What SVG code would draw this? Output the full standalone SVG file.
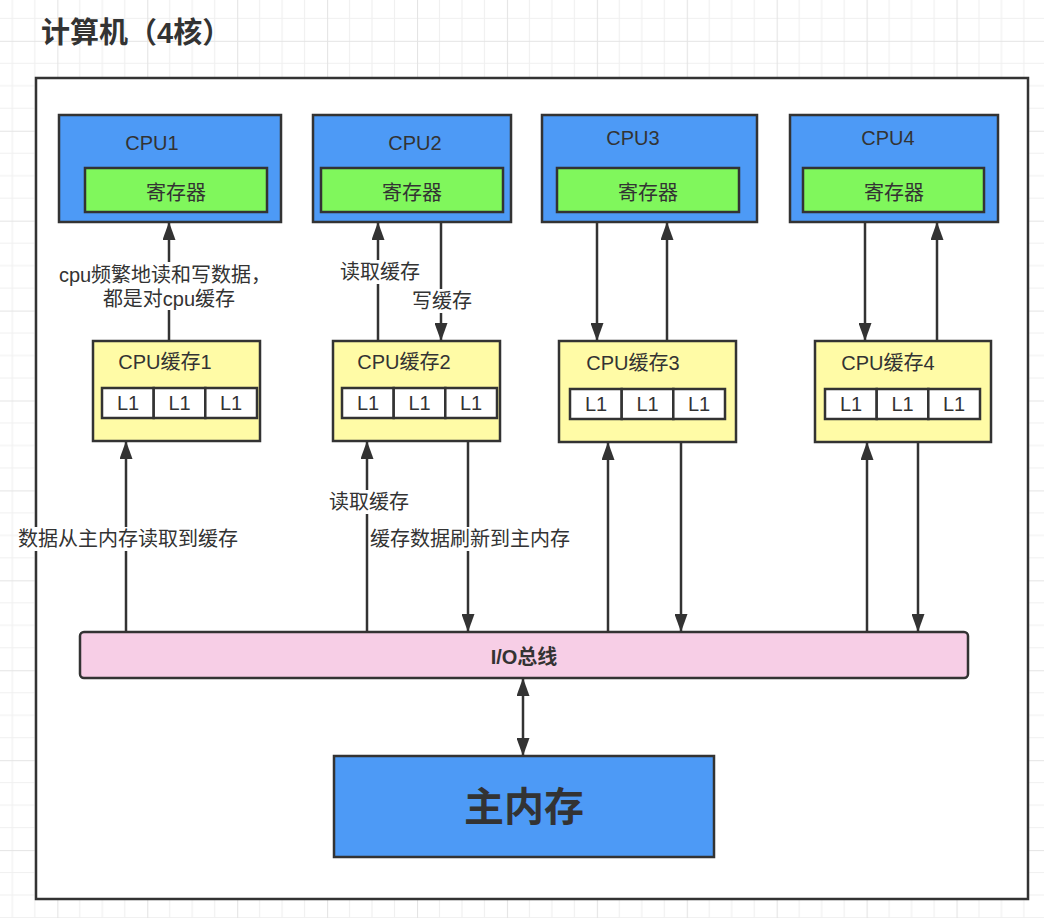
<svg xmlns="http://www.w3.org/2000/svg" width="1044" height="918" viewBox="0 0 1044 918">
<defs>
<pattern id="grid" patternUnits="userSpaceOnUse" x="-32.6" y="-49.1" width="89.92" height="89.92">
<path d="M22.48 0V89.92M44.96 0V89.92M67.44 0V89.92M0 22.48H89.92M0 44.96H89.92M0 67.44H89.92" stroke="#f0f0f0" stroke-width="1.2" fill="none"/>
<path d="M0.5 0V89.92M0 0.5H89.92" stroke="#e4e4e4" stroke-width="1.2" fill="none"/>
</pattern>
<marker id="arr" markerUnits="userSpaceOnUse" markerWidth="18" markerHeight="13" refX="18" refY="6.5" orient="auto">
<path d="M0,0 L18,6.5 L0,13 Z" fill="#333"/>
</marker>
<marker id="arrs" markerUnits="userSpaceOnUse" markerWidth="18" markerHeight="13" refX="18" refY="6.5" orient="auto-start-reverse">
<path d="M0,0 L18,6.5 L0,13 Z" fill="#333"/>
</marker>
</defs>
<style>
text{font-family:"Liberation Sans","Noto Sans CJK SC",sans-serif;fill:#333;font-size:20px;text-anchor:middle}
.cpu{fill:#4D9AF6;stroke:#333;stroke-width:2.5}
.reg{fill:#80F75C;stroke:#333;stroke-width:2.5}
.cache{fill:#FFFBA6;stroke:#333;stroke-width:2.5}
.l1{fill:#fff;stroke:#333;stroke-width:2.5}
.bus{fill:#F7CEE6;stroke:#333;stroke-width:2.5}
.ln{stroke:#333;stroke-width:2.5;fill:none}
.lbl{fill:#fff}
</style>
<rect x="0" y="0" width="1044" height="918" fill="#fff"/>
<rect x="0" y="0" width="1044" height="918" fill="url(#grid)"/>
<text x="41" y="43" style="text-anchor:start;font-size:29px;font-weight:bold">计算机（4核）</text>
<g id="computer"><rect x="36" y="78" width="992" height="821" fill="#fff" stroke="#333" stroke-width="2.5"/></g>

<g id="cpu1">
<rect class="cpu" x="59" y="115" width="222" height="107"/>
<text x="152" y="150">CPU1</text>
<rect class="reg" x="85" y="168" width="182" height="44"/>
<text x="176" y="200">寄存器</text>
</g>
<g id="cpu2">
<rect class="cpu" x="313" y="115" width="198" height="107"/>
<text x="415" y="150">CPU2</text>
<rect class="reg" x="321" y="168" width="182" height="44"/>
<text x="412" y="200">寄存器</text>
</g>
<g id="cpu3">
<rect class="cpu" x="542" y="115" width="215" height="107"/>
<text x="633" y="145">CPU3</text>
<rect class="reg" x="557" y="168" width="182" height="44"/>
<text x="648" y="200">寄存器</text>
</g>
<g id="cpu4">
<rect class="cpu" x="790" y="115" width="208" height="107"/>
<text x="888" y="145">CPU4</text>
<rect class="reg" x="803" y="168" width="181" height="44"/>
<text x="894" y="200">寄存器</text>
</g>

<g id="cache1">
<rect class="cache" x="93" y="341" width="167" height="100"/>
<text x="165" y="369">CPU缓存1</text>
<rect class="l1" x="102" y="388" width="51.7" height="30"/>
<rect class="l1" x="153.7" y="388" width="51.7" height="30"/>
<rect class="l1" x="205.3" y="388" width="51.7" height="30"/>
<text x="128" y="410">L1</text><text x="179.5" y="410">L1</text><text x="231" y="410">L1</text>
</g>
<g id="cache2">
<rect class="cache" x="333" y="341" width="167" height="100"/>
<text x="404" y="369">CPU缓存2</text>
<rect class="l1" x="342" y="388" width="51.7" height="30"/>
<rect class="l1" x="393.7" y="388" width="51.7" height="30"/>
<rect class="l1" x="445.3" y="388" width="51.7" height="30"/>
<text x="368" y="410">L1</text><text x="419.5" y="410">L1</text><text x="471" y="410">L1</text>
</g>
<g id="cache3">
<rect class="cache" x="559" y="341" width="177" height="101"/>
<text x="633" y="370">CPU缓存3</text>
<rect class="l1" x="570" y="389" width="51.7" height="30"/>
<rect class="l1" x="621.7" y="389" width="51.7" height="30"/>
<rect class="l1" x="673.3" y="389" width="51.7" height="30"/>
<text x="596" y="411">L1</text><text x="647.5" y="411">L1</text><text x="699" y="411">L1</text>
</g>
<g id="cache4">
<rect class="cache" x="815" y="341" width="176" height="101"/>
<text x="888" y="370">CPU缓存4</text>
<rect class="l1" x="825" y="389" width="51.7" height="30"/>
<rect class="l1" x="876.7" y="389" width="51.7" height="30"/>
<rect class="l1" x="928.3" y="389" width="51.7" height="30"/>
<text x="851" y="411">L1</text><text x="902.5" y="411">L1</text><text x="954" y="411">L1</text>
</g>

<g id="bus">
<rect class="bus" x="80" y="632" width="888" height="46" rx="4"/>
<text x="524" y="664" style="font-weight:bold">I/O总线</text>
</g>
<g id="memory">
<rect class="cpu" x="334" y="756" width="380" height="101"/>
<text x="524" y="821" style="font-size:40px;font-weight:bold">主内存</text>
</g>

<g id="connectors">
<path class="ln" d="M169 341V222" marker-end="url(#arr)"/>
<path class="ln" d="M378 341V222" marker-end="url(#arr)"/>
<path class="ln" d="M441 222V341" marker-end="url(#arr)"/>
<path class="ln" d="M597 222V341" marker-end="url(#arr)"/>
<path class="ln" d="M667 341V222" marker-end="url(#arr)"/>
<path class="ln" d="M865 222V341" marker-end="url(#arr)"/>
<path class="ln" d="M937 341V222" marker-end="url(#arr)"/>
<path class="ln" d="M126 632V441" marker-end="url(#arr)"/>
<path class="ln" d="M367 632V441" marker-end="url(#arr)"/>
<path class="ln" d="M468 441V632" marker-end="url(#arr)"/>
<path class="ln" d="M608 632V442" marker-end="url(#arr)"/>
<path class="ln" d="M681 442V632" marker-end="url(#arr)"/>
<path class="ln" d="M867 632V442" marker-end="url(#arr)"/>
<path class="ln" d="M918 442V632" marker-end="url(#arr)"/>
<path class="ln" d="M523 678V756" marker-start="url(#arrs)" marker-end="url(#arrs)"/>

<rect class="lbl" x="62" y="262" width="204" height="48"/>
<text x="165" y="282">cpu频繁地读和写数据，</text>
<text x="169" y="306">都是对cpu缓存</text>
<rect class="lbl" x="340" y="260" width="80" height="24"/>
<text x="380" y="279">读取缓存</text>
<rect class="lbl" x="412" y="289" width="60" height="24"/>
<text x="442" y="308">写缓存</text>
<rect class="lbl" x="18" y="527" width="220" height="24"/>
<text x="128" y="546">数据从主内存读取到缓存</text>
<rect class="lbl" x="329" y="490" width="80" height="24"/>
<text x="369" y="509">读取缓存</text>
<rect class="lbl" x="370" y="527" width="200" height="24"/>
<text x="470" y="546">缓存数据刷新到主内存</text>
</g>
</svg>
